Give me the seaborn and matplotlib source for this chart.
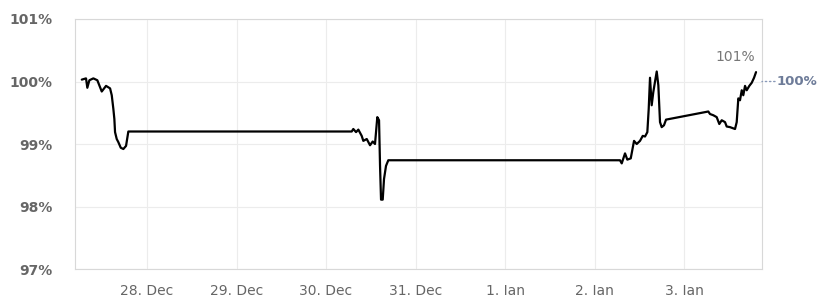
import pandas as pd
import matplotlib
matplotlib.use("Agg")
import matplotlib.pyplot as plt
import seaborn as sns
from matplotlib.ticker import FuncFormatter

# Serie normalizada (en %)
tiempos = [
    "2019-12-27 06:30", "2019-12-27 07:38", "2019-12-27 07:59", "2019-12-27 08:32",
    "2019-12-27 09:36", "2019-12-27 10:40", "2019-12-27 11:51", "2019-12-27 13:00",
    "2019-12-27 14:05", "2019-12-27 14:32", "2019-12-27 14:58", "2019-12-27 15:14",
    "2019-12-27 15:25", "2019-12-27 15:52", "2019-12-27 16:18", "2019-12-27 16:57",
    "2019-12-27 17:39", "2019-12-27 18:22", "2019-12-27 18:59",
    "2019-12-30 06:53", "2019-12-30 07:19", "2019-12-30 08:03", "2019-12-30 08:40",
    "2019-12-30 09:34", "2019-12-30 10:00", "2019-12-30 10:55", "2019-12-30 11:48",
    "2019-12-30 12:31", "2019-12-30 13:08", "2019-12-30 13:45", "2019-12-30 14:13",
    "2019-12-30 14:29", "2019-12-30 14:45", "2019-12-30 15:12", "2019-12-30 15:33",
    "2019-12-30 16:05", "2019-12-30 16:42",
    "2020-01-02 06:50", "2020-01-02 07:18", "2020-01-02 08:11", "2020-01-02 08:48",
    "2020-01-02 09:43", "2020-01-02 10:36", "2020-01-02 11:19", "2020-01-02 12:12",
    "2020-01-02 12:56", "2020-01-02 13:33", "2020-01-02 14:10", "2020-01-02 14:32",
    "2020-01-02 14:53", "2020-01-02 15:20", "2020-01-02 15:46", "2020-01-02 16:14",
    "2020-01-02 16:41", "2020-01-02 17:07", "2020-01-02 17:34", "2020-01-02 18:01",
    "2020-01-02 18:38", "2020-01-02 19:11",
    "2020-01-03 06:31", "2020-01-03 06:58", "2020-01-03 07:52", "2020-01-03 08:46",
    "2020-01-03 09:28", "2020-01-03 10:07", "2020-01-03 11:00", "2020-01-03 11:27",
    "2020-01-03 12:20", "2020-01-03 13:41", "2020-01-03 14:08", "2020-01-03 14:34",
    "2020-01-03 15:01", "2020-01-03 15:29", "2020-01-03 15:54", "2020-01-03 16:22",
    "2020-01-03 16:49", "2020-01-03 17:31", "2020-01-03 18:10", "2020-01-03 18:47",
    "2020-01-03 19:19",
]
valores = [
    100.03, 100.05, 99.90, 100.02,
    100.05, 100.02, 99.84, 99.93,
    99.89, 99.78, 99.56, 99.40,
    99.19, 99.08, 99.03, 98.94,
    98.92, 98.97, 99.20,
    99.20, 99.24, 99.19, 99.23,
    99.13, 99.05, 99.08, 98.98,
    99.04, 99.00, 99.43, 99.38,
    98.65, 98.11, 98.11, 98.44,
    98.65, 98.74,
    98.74, 98.69, 98.85, 98.75,
    98.77, 99.05, 99.00, 99.05,
    99.13, 99.12, 99.19, 99.56,
    100.06, 99.62, 99.83, 100.00,
    100.16, 99.94, 99.35, 99.27,
    99.30, 99.39,
    99.52, 99.48, 99.46, 99.43,
    99.32, 99.38, 99.35, 99.28,
    99.27, 99.24, 99.35, 99.73,
    99.70, 99.86, 99.78, 99.93,
    99.86, 99.93, 99.98, 100.06,
    100.15,
]
etiqueta_final = "101%"
linea_base = 100
etiqueta_base = "100%"
y_ticks = [97, 98, 99, 100, 101]
x_inicio = "2019-12-27 04:41"
x_fin = "2020-01-03 20:55"

df = pd.DataFrame({"tiempo": pd.to_datetime(tiempos), "valor": valores})

sns.set_style("white")
plt.rcParams['font.family'] = ['DejaVu Sans']

fig = plt.figure(figsize=(8.19, 2.95), dpi=100)
ax = fig.add_axes([0.0916, 0.0881, 0.8388, 0.8475])

sns.lineplot(data=df, x="tiempo", y="valor", color="black", linewidth=1.6, ax=ax)

ax.set_xlim(pd.to_datetime(x_inicio), pd.to_datetime(x_fin))
ax.set_ylim(97, 101)

# Ticks diarios
dias = pd.date_range("2019-12-28", "2020-01-03", freq="D")
ax.set_xticks(dias)
ax.set_xticklabels([f"{d.day}. {d.strftime('%b')}" for d in dias])
ax.set_yticks(y_ticks)
ax.yaxis.set_major_formatter(FuncFormatter(lambda v, p: f"{v:.0f}%"))

ax.grid(True, color="#ececec", linewidth=0.8)
for s in ax.spines.values():
    s.set_color("#d8d8d8")
    s.set_linewidth(0.8)

ax.tick_params(axis="x", length=9, width=0.8, color="#cccccc", pad=2,
               labelsize=10, labelcolor="#666666")
ax.tick_params(axis="y", length=0, pad=16, labelsize=10, labelcolor="#666666")
for lab in ax.get_yticklabels():
    lab.set_fontweight("bold")

ax.set_xlabel("")
ax.set_ylabel("")

# Etiqueta del ultimo valor
ax.annotate(etiqueta_final, (df["tiempo"].iloc[-1], df["valor"].iloc[-1]),
            xytext=(-1, 6), textcoords="offset points", ha="right", va="bottom",
            fontsize=10, color="#777777")

# Linea de referencia fuera del area del grafico
ax.annotate("", xy=(1.0, linea_base), xycoords=("axes fraction", "data"),
            xytext=(1.019, linea_base), textcoords=("axes fraction", "data"),
            arrowprops=dict(arrowstyle="-", linestyle=(0, (1, 2)), color="#8a9ab8",
                            linewidth=1, shrinkA=0, shrinkB=0),
            annotation_clip=False)
ax.text(1.021, linea_base, etiqueta_base, transform=ax.get_yaxis_transform(),
        ha="left", va="center", fontsize=9.5, fontweight="bold", color="#6e7c99",
        clip_on=False)

fig.savefig("out.png", dpi=100)
